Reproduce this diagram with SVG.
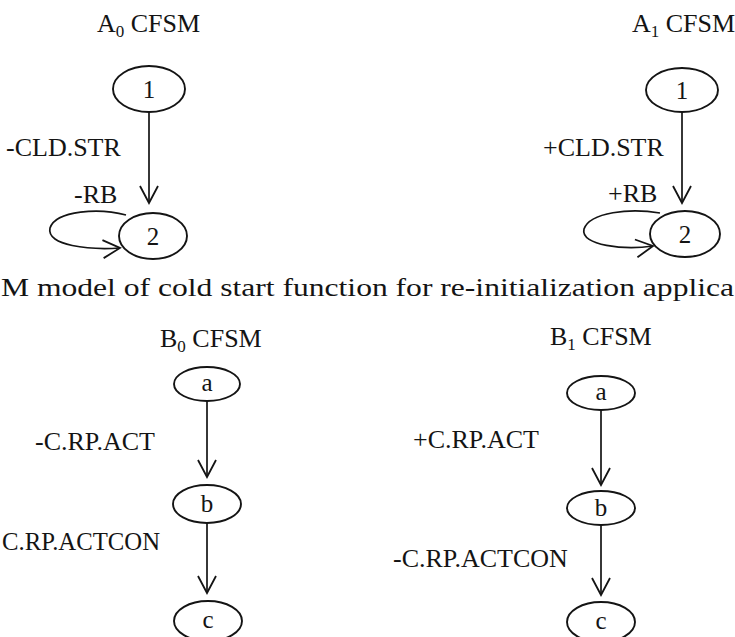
<svg xmlns="http://www.w3.org/2000/svg" width="735" height="637" viewBox="0 0 735 637">
  <style>
    text { font-family: "Liberation Serif", "Times New Roman", serif; fill: #141414; }
    .title { font-size: 26px; }
    .sub { font-size: 17px; }
    .lbl { font-size: 26px; }
    .state { font-size: 25px; text-anchor: middle; }
    .node ellipse { fill: none; stroke: #141414; stroke-width: 1.9; }
    .edge { fill: none; stroke: #141414; stroke-width: 1.7; }
  </style>
  <defs>
    <marker id="vee" viewBox="0 0 20 20" refX="18" refY="10" markerWidth="20" markerHeight="20" markerUnits="userSpaceOnUse" orient="auto">
      <path d="M1,1 L18,10 L1,19" fill="none" stroke="#141414" stroke-width="1.8"/>
    </marker>
  </defs>
  <rect width="735" height="637" fill="#ffffff"/>

  <!-- machine titles -->
  <text class="title" x="97" y="32">A<tspan class="sub" dy="5">0</tspan><tspan dy="-5"> CFSM</tspan></text>
  <text class="title" x="632" y="32">A<tspan class="sub" dy="5">1</tspan><tspan dy="-5"> CFSM</tspan></text>
  <text class="title" x="160" y="347">B<tspan class="sub" dy="5">0</tspan><tspan dy="-5"> CFSM</tspan></text>
  <text class="title" x="550" y="345">B<tspan class="sub" dy="5">1</tspan><tspan dy="-5"> CFSM</tspan></text>

  <!-- caption line -->
  <text class="title" x="1" y="296" textLength="733" lengthAdjust="spacingAndGlyphs">M model of cold start function for re-initialization applica</text>

  <!-- A0 states -->
  <g id="A0-1" class="node"><ellipse cx="149" cy="89" rx="36" ry="23"/><text class="state" x="149" y="98">1</text></g>
  <g id="A0-2" class="node"><ellipse cx="153" cy="236" rx="34" ry="23"/><text class="state" x="153" y="245">2</text></g>
  <!-- A1 states -->
  <g id="A1-1" class="node"><ellipse cx="682" cy="90" rx="36" ry="22"/><text class="state" x="682" y="99">1</text></g>
  <g id="A1-2" class="node"><ellipse cx="685" cy="234" rx="35" ry="23"/><text class="state" x="685" y="243">2</text></g>
  <!-- B0 states -->
  <g id="B0-a" class="node"><ellipse cx="207" cy="384" rx="33" ry="17"/><text class="state" x="207" y="391">a</text></g>
  <g id="B0-b" class="node"><ellipse cx="207" cy="504" rx="34" ry="19"/><text class="state" x="207" y="512">b</text></g>
  <g id="B0-c" class="node"><ellipse cx="208" cy="621" rx="34" ry="20"/><text class="state" x="208" y="628">c</text></g>
  <!-- B1 states -->
  <g id="B1-a" class="node"><ellipse cx="601" cy="393" rx="34" ry="17"/><text class="state" x="601" y="400">a</text></g>
  <g id="B1-b" class="node"><ellipse cx="601" cy="508" rx="34" ry="17"/><text class="state" x="601" y="516">b</text></g>
  <g id="B1-c" class="node"><ellipse cx="601" cy="622" rx="34" ry="20"/><text class="state" x="601" y="629">c</text></g>

  <!-- transitions -->
  <g id="connectors">
    <path class="edge" d="M149,112 L149,203" marker-end="url(#vee)"/>
    <path class="edge" d="M126,215 C100,208 56,210 50,228 C46,246 90,250 120,248" marker-end="url(#vee)"/>
    <path class="edge" d="M682,112 L682,203" marker-end="url(#vee)"/>
    <path class="edge" d="M660,213 C630,208 590,212 584,229 C580,246 625,250 653,246" marker-end="url(#vee)"/>
    <path class="edge" d="M207,401 L207,477" marker-end="url(#vee)"/>
    <path class="edge" d="M207,523 L207,593" marker-end="url(#vee)"/>
    <path class="edge" d="M601,410 L601,485" marker-end="url(#vee)"/>
    <path class="edge" d="M601,525 L601,595" marker-end="url(#vee)"/>
  </g>

  <!-- transition labels -->
  <text class="lbl" x="6" y="156">-CLD.STR</text>
  <text class="lbl" x="74" y="203">-RB</text>
  <text class="lbl" x="543" y="156">+CLD.STR</text>
  <text class="lbl" x="608" y="202">+RB</text>
  <text class="lbl" x="35" y="450">-C.RP.ACT</text>
  <text class="lbl" x="2" y="550" textLength="158" lengthAdjust="spacingAndGlyphs">C.RP.ACTCON</text>
  <text class="lbl" x="413" y="448">+C.RP.ACT</text>
  <text class="lbl" x="393" y="567">-C.RP.ACTCON</text>
</svg>
